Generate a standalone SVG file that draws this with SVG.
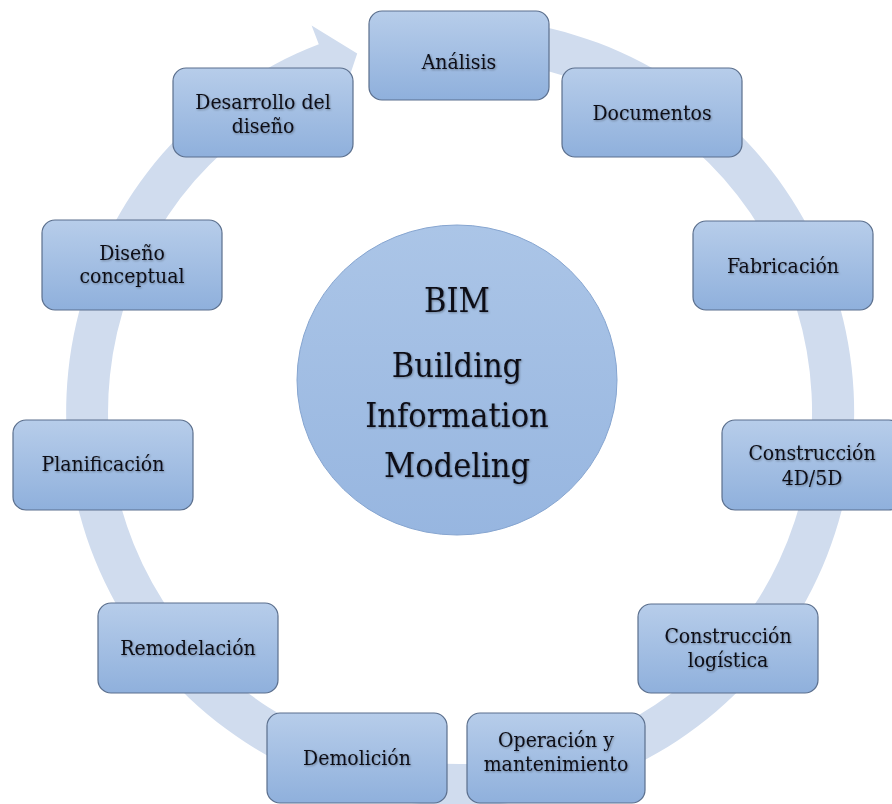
<svg xmlns="http://www.w3.org/2000/svg" width="892" height="804" viewBox="0 0 892 804">
<defs>
<linearGradient id="boxGrad" x1="0" y1="0" x2="0" y2="1">
<stop offset="0" stop-color="#b7cdea"/>
<stop offset="1" stop-color="#8fb0dc"/>
</linearGradient>
<linearGradient id="circGrad" x1="0" y1="0" x2="0" y2="1">
<stop offset="0" stop-color="#abc5e7"/>
<stop offset="1" stop-color="#97b6e0"/>
</linearGradient>
<filter id="tsh" x="-10%" y="-30%" width="120%" height="160%">
<feDropShadow dx="0.8" dy="1" stdDeviation="0.9" flood-color="#000000" flood-opacity="0.35"/>
</filter>
</defs>
<style>
.box{fill:url(#boxGrad);stroke:#5b6f8d;stroke-width:1.2}
.t{font-family:"DejaVu Serif Condensed","DejaVu Serif",serif;font-stretch:condensed;font-size:21px;fill:#0e1019;text-anchor:middle;filter:url(#tsh)}
.ct{font-family:"DejaVu Serif Condensed","DejaVu Serif",serif;font-stretch:condensed;font-size:34px;fill:#0e1019;text-anchor:middle;filter:url(#tsh)}
.ring{fill:#d0dcee}
</style>
<rect width="892" height="804" fill="#ffffff"/>
<g id="connectors">
<path class="ring" d="M 480.6 18.5 A 394 394 0 1 1 318.8 44.2 L 311.6 25.5 L 357.2 53.5 L 341.0 102.1 L 333.9 83.4 A 352 352 0 1 0 478.4 60.5 Z"/>
</g>
<g id="center">
<ellipse cx="457" cy="380" rx="160" ry="155" fill="url(#circGrad)" stroke="#86a5d0" stroke-width="1"/>
<text class="ct" x="457" y="312">BIM</text>
<text class="ct" x="457" y="377">Building</text>
<text class="ct" x="457" y="427">Information</text>
<text class="ct" x="457" y="477">Modeling</text>
</g>
<g id="analisis">
<rect class="box" x="369" y="11" width="180" height="89" rx="13"/>
<text class="t" x="459" y="69">Análisis</text>
</g>
<g id="documentos">
<rect class="box" x="562" y="68" width="180" height="89" rx="13"/>
<text class="t" x="652" y="120">Documentos</text>
</g>
<g id="fabricacion">
<rect class="box" x="693" y="221" width="180" height="89" rx="13"/>
<text class="t" x="783" y="273">Fabricación</text>
</g>
<g id="construccion4d5d">
<rect class="box" x="722" y="420" width="180" height="90" rx="13"/>
<text class="t" x="812" y="460">Construcción</text>
<text class="t" x="812" y="485">4D/5D</text>
</g>
<g id="construccionlogistica">
<rect class="box" x="638" y="604" width="180" height="89" rx="13"/>
<text class="t" x="728" y="643">Construcción</text>
<text class="t" x="728" y="667">logística</text>
</g>
<g id="operacion">
<rect class="box" x="467" y="713" width="178" height="90" rx="13"/>
<text class="t" x="556" y="747">Operación y</text>
<text class="t" x="556" y="771">mantenimiento</text>
</g>
<g id="demolicion">
<rect class="box" x="267" y="713" width="180" height="90" rx="13"/>
<text class="t" x="357" y="765">Demolición</text>
</g>
<g id="remodelacion">
<rect class="box" x="98" y="603" width="180" height="90" rx="13"/>
<text class="t" x="188" y="655">Remodelación</text>
</g>
<g id="planificacion">
<rect class="box" x="13" y="420" width="180" height="90" rx="13"/>
<text class="t" x="103" y="471">Planificación</text>
</g>
<g id="disenoconceptual">
<rect class="box" x="42" y="220" width="180" height="90" rx="13"/>
<text class="t" x="132" y="260">Diseño</text>
<text class="t" x="132" y="283">conceptual</text>
</g>
<g id="desarrollo">
<rect class="box" x="173" y="68" width="180" height="89" rx="13"/>
<text class="t" x="263" y="109">Desarrollo del</text>
<text class="t" x="263" y="133">diseño</text>
</g>
</svg>
